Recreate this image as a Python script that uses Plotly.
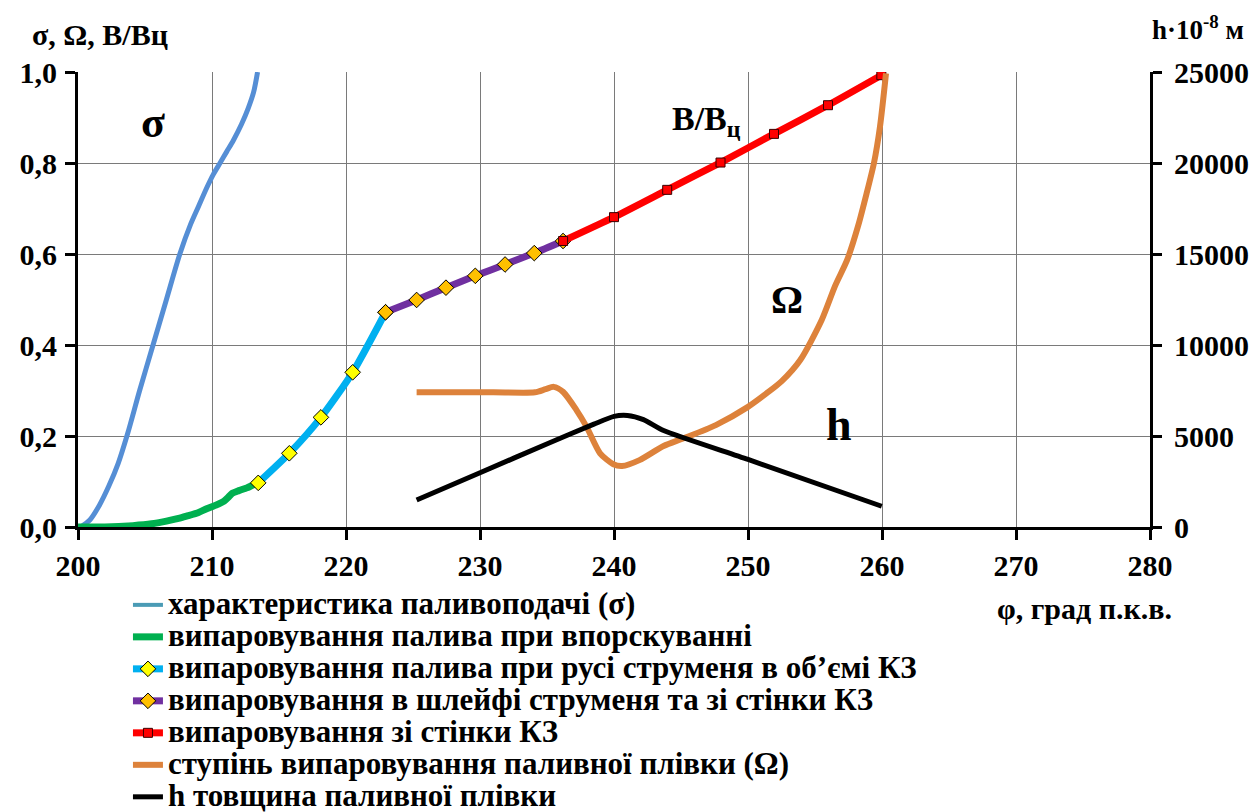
import plotly.graph_objects as go

# ---- data ----
sigma_x = [200.2, 200.9, 201.6, 202.3, 203.0, 203.7, 204.6, 205.6, 206.6, 207.6, 208.4,
           209.0, 209.6, 210.1, 210.6, 211.1, 211.6, 212.2, 212.7, 213.1, 213.4]
sigma_y = [0.0, 0.016, 0.048, 0.09, 0.14, 0.205, 0.30, 0.40, 0.50, 0.60, 0.665,
           0.705, 0.745, 0.775, 0.80, 0.825, 0.85, 0.885, 0.92, 0.955, 1.0]

inj_x = [200.0, 202.0, 204.1, 205.5, 206.6, 207.5, 208.1, 209.0, 209.6, 210.3, 210.9,
         211.2, 211.5, 212.0, 212.6, 213.45]
inj_y = [0.0, 0.0, 0.003, 0.007, 0.013, 0.019, 0.024, 0.032, 0.040, 0.048, 0.057,
         0.065, 0.074, 0.080, 0.086, 0.098]

jet_x = [213.45, 215.77, 218.13, 220.5, 222.95]
jet_y = [0.097, 0.162, 0.241, 0.340, 0.472]

plume_x = [222.95, 225.27, 227.46, 229.65, 231.87, 234.05, 236.2]
plume_y = [0.472, 0.499, 0.526, 0.552, 0.577, 0.602, 0.6286]

wall_x = [236.2, 240.0, 243.97, 247.95, 251.94, 255.97, 259.95]
wall_y = [0.6286, 0.681, 0.741, 0.801, 0.864, 0.927, 0.993]

omega_x = [225.27, 228.0, 231.0, 234.1, 234.9, 235.5, 236.2, 237.2, 237.96, 238.96, 239.95,
           240.6, 241.9, 243.7, 245.2, 247.6, 250.0, 251.4, 252.5, 253.9, 255.5, 256.5,
           257.4, 258.2, 258.85, 259.4, 259.85, 260.3]
omega_y = [0.296, 0.296, 0.296, 0.296, 0.303, 0.308, 0.297, 0.257, 0.22, 0.162, 0.138,
           0.134, 0.147, 0.178, 0.195, 0.224, 0.264, 0.294, 0.32, 0.367, 0.455, 0.53,
           0.587, 0.66, 0.733, 0.80, 0.88, 0.997]

h_x = [225.27, 230.0, 235.2, 238.5, 240.0, 241.0, 242.2, 243.7, 250.0, 259.98]
h_y = [1480, 2980, 4630, 5650, 6080, 6130, 5900, 5300, 3710, 1140]

names = [
    "характеристика паливоподачі (σ)",
    "випаровування палива при впорскуванні",
    "випаровування палива при русі струменя в об’ємі КЗ",
    "випаровування в шлейфі струменя та зі стінки КЗ",
    "випаровування зі стінки КЗ",
    "ступінь випаровування паливної плівки (Ω)",
    "h товщина паливної плівки",
]

x_tickvals = [200, 210, 220, 230, 240, 250, 260, 270, 280]
x_ticktext = ["200", "210", "220", "230", "240", "250", "260", "270", "280"]
y_tickvals = [0.0, 0.2, 0.4, 0.6, 0.8, 1.0]
y_ticktext = ["0,0", "0,2", "0,4", "0,6", "0,8", "1,0"]
y2_tickvals = [0, 5000, 10000, 15000, 20000, 25000]
y2_ticktext = ["0", "5000", "10000", "15000", "20000", "25000"]

FONT = "Liberation Serif"
BIG = '<b><span style="font-size:31px">{}</span></b>'


def bold(labels):
    return ["<b>" + t + "</b>" for t in labels]


# page shows the figure with an 8px body offset; plot area spans page x 78..1150, y 72..527
W, H = 1250, 804
L, T = 70, 64
PW, PH = 1072, 455

fig = go.Figure()

fig.add_trace(go.Scatter(x=sigma_x, y=sigma_y, mode="lines", showlegend=False,
                         line=dict(color="#558ED5", width=5, shape="spline", smoothing=0.8)))
fig.add_trace(go.Scatter(x=[None], y=[None], mode="lines", name=BIG.format(names[0]),
                         line=dict(color="#4A9BB5", width=4)))
fig.add_trace(go.Scatter(x=inj_x, y=inj_y, mode="lines", name=BIG.format(names[1]),
                         line=dict(color="#00B050", width=7, shape="spline", smoothing=0.6)))
fig.add_trace(go.Scatter(x=jet_x, y=jet_y, mode="lines+markers", name=BIG.format(names[2]),
                         line=dict(color="#00B0F0", width=7, shape="spline", smoothing=0.6),
                         marker=dict(symbol="diamond", size=12, color="#FFFF00",
                                     line=dict(color="#000000", width=1))))
fig.add_trace(go.Scatter(x=plume_x, y=plume_y, mode="lines+markers", name=BIG.format(names[3]),
                         line=dict(color="#7030A0", width=7, shape="spline", smoothing=0.6),
                         marker=dict(symbol="diamond", size=12, color="#FFC000",
                                     line=dict(color="#000000", width=1))))
fig.add_trace(go.Scatter(x=wall_x, y=wall_y, mode="lines+markers", name=BIG.format(names[4]),
                         line=dict(color="#FF0000", width=7, shape="spline", smoothing=0.6),
                         marker=dict(symbol="square", size=9, color="#FF0000",
                                     line=dict(color="#3a0000", width=1))))
fig.add_trace(go.Scatter(x=omega_x, y=omega_y, mode="lines", name=BIG.format(names[5]),
                         line=dict(color="#DD823B", width=6, shape="spline", smoothing=0.7)))
fig.add_trace(go.Scatter(x=h_x, y=h_y, mode="lines", name=BIG.format(names[6]), yaxis="y2",
                         line=dict(color="#000000", width=5, shape="spline", smoothing=0.6)))

tickfont = dict(family=FONT, size=30, color="#000000")
gridcol = "#7a7a7a"

fig.update_layout(
    width=W, height=H,
    font=dict(family=FONT, color="#000000"),
    margin=dict(l=L, r=W - L - PW, t=T, b=H - T - PH, autoexpand=False),
    paper_bgcolor="#ffffff", plot_bgcolor="#ffffff",
    xaxis=dict(range=[200, 280], tickvals=x_tickvals, ticktext=bold(x_ticktext),
               showgrid=True, gridcolor=gridcol,
               gridwidth=1, zeroline=False, showline=True, linecolor="#000000",
               linewidth=3, ticks="outside", ticklen=10, tickwidth=3, tickcolor="#000000",
               tickfont=tickfont),
    yaxis=dict(range=[0, 1], tickvals=y_tickvals, ticktext=bold(y_ticktext), showgrid=True,
               gridcolor=gridcol, gridwidth=1, zeroline=False, showline=True,
               linecolor="#000000", linewidth=3, ticks="outside", ticklen=10,
               tickwidth=3, tickcolor="#000000", tickfont=tickfont, ticklabelstandoff=2),
    yaxis2=dict(range=[0, 25000], tickvals=y2_tickvals, ticktext=bold(y2_ticktext),
                overlaying="y", side="right", showgrid=False, zeroline=False, showline=True,
                linecolor="#000000", linewidth=3, ticks="outside", ticklen=9,
                tickwidth=3, tickcolor="#000000", tickfont=tickfont, ticklabelstandoff=6),
    showlegend=True,
    legend=dict(x=0.0466, y=-0.125, xanchor="left", yanchor="top", orientation="v",
                font=dict(family=FONT, size=22.3, color="#000000"),
                itemwidth=30, bgcolor="rgba(0,0,0,0)", borderwidth=0,
                traceorder="normal", maxheight=400),
)

# axis titles (page pixel positions converted to paper coords)
annots = [
    dict(text="<b>σ, Ω, В/Вц</b>", x=30, y=34, size=30),
    dict(text="<b>h·10<sup>-8</sup> м</b>", x=1150, y=28, size=27),
    dict(text="<b>φ, град п.к.в.</b>", x=995, y=608, size=30),
]
for a in annots:
    fig.add_annotation(text=a["text"], xref="paper", yref="paper",
                       x=(a["x"] - 8 - L) / PW, y=(T + PH - (a["y"] - 8)) / PH,
                       xanchor="left", yanchor="middle", showarrow=False,
                       font=dict(family=FONT, size=a["size"], color="#000000"))

labels = [
    dict(text="<b>σ</b>", x=205.6, y=0.89, size=44),
    dict(text="<b>В/В<sub>ц</sub></b>", x=246.9, y=0.893, size=34),
    dict(text="<b>Ω</b>", x=252.9, y=0.50, size=40),
    dict(text="<b>h</b>", x=256.8, y=0.225, size=46),
]
for a in labels:
    fig.add_annotation(text=a["text"], xref="x", yref="y", x=a["x"], y=a["y"],
                       xanchor="center", yanchor="middle", showarrow=False,
                       font=dict(family=FONT, size=a["size"], color="#000000"))

fig.write_html("out.html")
